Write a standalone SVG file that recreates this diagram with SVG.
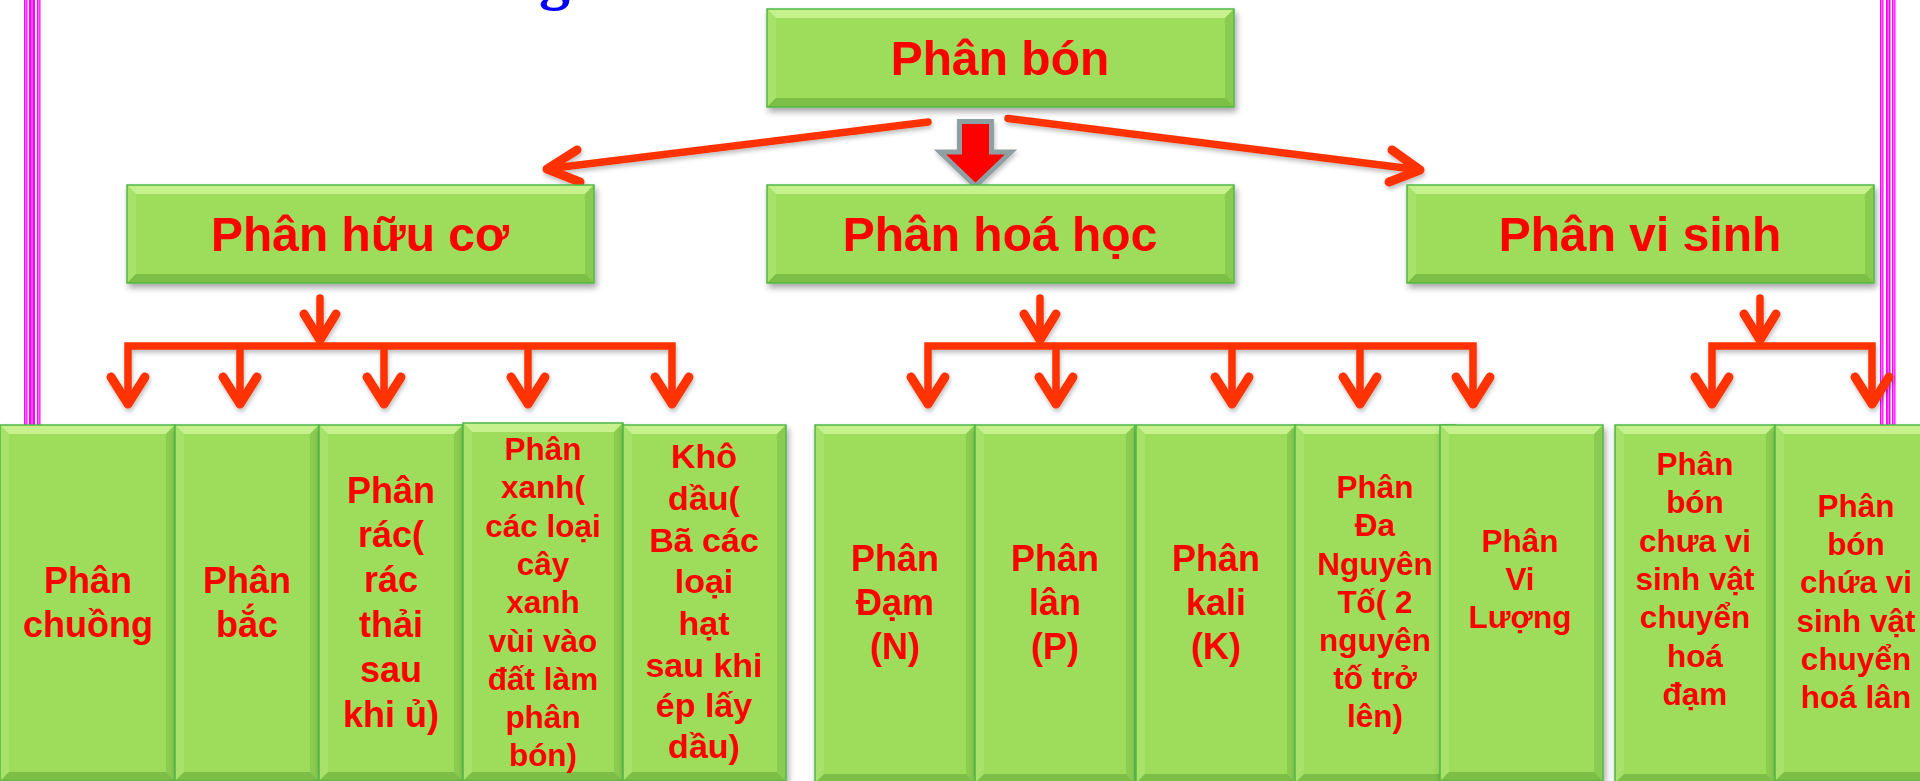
<svg xmlns="http://www.w3.org/2000/svg" xmlns:xlink="http://www.w3.org/1999/xlink" width="1920" height="781" viewBox="0 0 1920 781">
<style>
.face{fill:#9EDC5B}
.bt{fill:#C6F18C}
.bl{fill:#A9E26A}
.br{fill:#8ACB51}
.bb{fill:#7DBE47}
.edge{fill:none;stroke:#4FB848;stroke-width:1.5}
.t{font-family:"Liberation Sans",Arial,sans-serif;font-weight:bold;fill:#FF0000;text-anchor:middle}
.t48{font-size:48px}
.t36{font-size:36px}
.t34{font-size:34px}
.t31{font-size:31.5px}
.mg{fill:#FF00FF}
.mgl{fill:#FF99FF}
.chev{fill:none;stroke:#FF3300;stroke-width:9;stroke-linecap:round;stroke-linejoin:round}
</style>
<defs>
<filter id="sh" x="-10%" y="-10%" width="130%" height="130%">
<feDropShadow dx="2" dy="4" stdDeviation="3" flood-color="#000" flood-opacity="0.35"/>
</filter>
<filter id="ash" x="-20%" y="-20%" width="140%" height="140%">
<feDropShadow dx="1" dy="3" stdDeviation="2" flood-color="#000" flood-opacity="0.25"/>
</filter>
<symbol id="bx467" overflow="visible">
<rect class="face" width="467" height="98"/>
<polygon class="bt" points="0,0 467,0 458,9 9,9"/>
<polygon class="bl" points="0,0 9,9 9,89 0,98"/>
<polygon class="br" points="467,0 467,98 458,89 458,9"/>
<polygon class="bb" points="0,98 467,98 458,89 9,89"/>
<rect class="edge" width="467" height="98"/>
</symbol>
<symbol id="bx175" overflow="visible">
<rect class="face" width="175" height="356"/>
<polygon class="bt" points="0,0 175,0 166,9 9,9"/>
<polygon class="bl" points="0,0 9,9 9,347 0,356"/>
<polygon class="br" points="175,0 175,356 166,347 166,9"/>
<polygon class="bb" points="0,356 175,356 166,347 9,347"/>
<rect class="edge" width="175" height="356"/>
</symbol>
<symbol id="bx144" overflow="visible">
<rect class="face" width="144" height="356"/>
<polygon class="bt" points="0,0 144,0 135,9 9,9"/>
<polygon class="bl" points="0,0 9,9 9,347 0,356"/>
<polygon class="br" points="144,0 144,356 135,347 135,9"/>
<polygon class="bb" points="0,356 144,356 135,347 9,347"/>
<rect class="edge" width="144" height="356"/>
</symbol>
<symbol id="bx160" overflow="visible">
<rect class="face" width="160" height="358"/>
<polygon class="bt" points="0,0 160,0 151,9 9,9"/>
<polygon class="bl" points="0,0 9,9 9,349 0,358"/>
<polygon class="br" points="160,0 160,358 151,349 151,9"/>
<polygon class="bb" points="0,358 160,358 151,349 9,349"/>
<rect class="edge" width="160" height="358"/>
</symbol>
<symbol id="bx163" overflow="visible">
<rect class="face" width="163" height="356"/>
<polygon class="bt" points="0,0 163,0 154,9 9,9"/>
<polygon class="bl" points="0,0 9,9 9,347 0,356"/>
<polygon class="br" points="163,0 163,356 154,347 154,9"/>
<polygon class="bb" points="0,356 163,356 154,347 9,347"/>
<rect class="edge" width="163" height="356"/>
</symbol>
</defs>
<rect width="1920" height="781" fill="#FFFFFF"/>

<g id="frame">
<rect class="mg" x="24" y="0" width="3.5" height="781"/>
<rect class="mg" x="29" y="0" width="6" height="781"/>
<rect class="mg" x="37" y="0" width="3.5" height="781"/>
<rect class="mgl" x="25.3" y="0" width="1" height="781"/>
<rect class="mgl" x="31.5" y="0" width="1" height="781"/>
<rect class="mgl" x="38.3" y="0" width="1" height="781"/>
<rect class="mg" x="1880" y="0" width="3.5" height="781"/>
<rect class="mg" x="1886" y="0" width="4.5" height="781"/>
<rect class="mg" x="1892" y="0" width="3.5" height="781"/>
<rect class="mgl" x="1881.3" y="0" width="1" height="781"/>
<rect class="mgl" x="1887.8" y="0" width="1" height="781"/>
<rect class="mgl" x="1893.3" y="0" width="1" height="781"/>
<text x="539" y="-2" font-family="'Liberation Serif','Times New Roman',serif" font-weight="bold" font-size="62" fill="#0000FF">g</text>
</g>

<g id="connectors" filter="url(#ash)">
<g fill="none" stroke="#FF3300" stroke-width="7.5" stroke-linecap="round" stroke-linejoin="round">
<line x1="928" y1="122" x2="550" y2="168.5"/>
<line x1="1008" y1="118.5" x2="1417" y2="169.5"/>
<line x1="320" y1="298" x2="320" y2="340"/>
<line x1="1040" y1="298" x2="1040" y2="340"/>
<line x1="1760" y1="298" x2="1760" y2="340"/>
</g>
<polyline class="chev" points="577,150 547,169 580,182"/>
<polyline class="chev" points="1392,150 1420,170 1389,182"/>
<polyline class="chev" points="304,314 320,340 336,314"/>
<polyline class="chev" points="1024,314 1040,340 1056,314"/>
<polyline class="chev" points="1744,314 1760,340 1776,314"/>
<g fill="none" stroke="#FF3300" stroke-width="7.5" stroke-linecap="butt" stroke-linejoin="miter">
<path d="M128,402 V346 H672 V402"/>
<path d="M240,346 V402 M384,346 V402 M528,346 V402"/>
<path d="M928,402 V346 H1473 V402"/>
<path d="M1056,346 V402 M1232,346 V402 M1360,346 V402"/>
<path d="M1712,402 V346 H1872 V402"/>
</g>
<polyline class="chev" points="111,377 128,404 145,377"/>
<polyline class="chev" points="223,377 240,404 257,377"/>
<polyline class="chev" points="367,377 384,404 401,377"/>
<polyline class="chev" points="511,377 528,404 545,377"/>
<polyline class="chev" points="655,377 672,404 689,377"/>
<polyline class="chev" points="911,377 928,404 945,377"/>
<polyline class="chev" points="1039,377 1056,404 1073,377"/>
<polyline class="chev" points="1215,377 1232,404 1249,377"/>
<polyline class="chev" points="1343,377 1360,404 1377,377"/>
<polyline class="chev" points="1456,377 1473,404 1490,377"/>
<polyline class="chev" points="1695,377 1712,404 1729,377"/>
<polyline class="chev" points="1855,377 1872,404 1889,377"/>
<polygon points="959.5,121.5 991.5,121.5 991.5,152 1011,152 975.5,186 940,152 959.5,152" fill="#FF0000" stroke="#8FA0A3" stroke-width="5" stroke-linejoin="miter"/>
</g>

<g id="n-phanbon">
<use xlink:href="#bx467" x="767" y="9" filter="url(#sh)"/>
<text class="t t48" x="1000" y="75">Phân bón</text>
</g>
<g id="n-huuco">
<use xlink:href="#bx467" x="127" y="185" filter="url(#sh)"/>
<text class="t t48" x="360" y="251">Phân hữu cơ</text>
</g>
<g id="n-hoahoc">
<use xlink:href="#bx467" x="767" y="185" filter="url(#sh)"/>
<text class="t t48" x="1000" y="251">Phân hoá học</text>
</g>
<g id="n-visinh">
<use xlink:href="#bx467" x="1407" y="185" filter="url(#sh)"/>
<text class="t t48" x="1640" y="251">Phân vi sinh</text>
</g>

<g id="n-chuong">
<use xlink:href="#bx175" x="0" y="425" filter="url(#sh)"/>
<text class="t t36"><tspan x="88" y="593">Phân</tspan><tspan x="88" y="637">chuồng</tspan></text>
</g>
<g id="n-bac">
<use xlink:href="#bx144" x="175" y="425" filter="url(#sh)"/>
<text class="t t36"><tspan x="247" y="593">Phân</tspan><tspan x="247" y="637">bắc</tspan></text>
</g>
<g id="n-rac">
<use xlink:href="#bx144" x="319" y="425" filter="url(#sh)"/>
<text class="t t36"><tspan x="391" y="503">Phân</tspan><tspan x="391" y="547">rác(</tspan><tspan x="391" y="592">rác</tspan><tspan x="391" y="637">thải</tspan><tspan x="391" y="682">sau</tspan><tspan x="391" y="727">khi ủ)</tspan></text>
</g>
<g id="n-xanh">
<use xlink:href="#bx160" x="463" y="423" filter="url(#sh)"/>
<text class="t t31"><tspan x="543" y="460">Phân</tspan><tspan x="543" y="498">xanh(</tspan><tspan x="543" y="537">các loại</tspan><tspan x="543" y="575">cây</tspan><tspan x="543" y="613">xanh</tspan><tspan x="543" y="652">vùi vào</tspan><tspan x="543" y="690">đất làm</tspan><tspan x="543" y="728">phân</tspan><tspan x="543" y="766">bón)</tspan></text>
</g>
<g id="n-khodau">
<use xlink:href="#bx163" x="623" y="425" filter="url(#sh)"/>
<text class="t t34"><tspan x="704" y="468">Khô</tspan><tspan x="704" y="510">dầu(</tspan><tspan x="704" y="552">Bã các</tspan><tspan x="704" y="593">loại</tspan><tspan x="704" y="635">hạt</tspan><tspan x="704" y="677">sau khi</tspan><tspan x="704" y="717">ép lấy</tspan><tspan x="704" y="758">dầu)</tspan></text>
</g>

<g id="n-dam">
<use xlink:href="#bx160" x="815" y="425" filter="url(#sh)"/>
<text class="t t36"><tspan x="895" y="571">Phân</tspan><tspan x="895" y="615">Đạm</tspan><tspan x="895" y="659">(N)</tspan></text>
</g>
<g id="n-lan">
<use xlink:href="#bx160" x="975" y="425" filter="url(#sh)"/>
<text class="t t36"><tspan x="1055" y="571">Phân</tspan><tspan x="1055" y="615">lân</tspan><tspan x="1055" y="659">(P)</tspan></text>
</g>
<g id="n-kali">
<use xlink:href="#bx160" x="1136" y="425" filter="url(#sh)"/>
<text class="t t36"><tspan x="1216" y="571">Phân</tspan><tspan x="1216" y="615">kali</tspan><tspan x="1216" y="659">(K)</tspan></text>
</g>
<g id="n-da">
<use xlink:href="#bx160" x="1295" y="425" filter="url(#sh)"/>
<text class="t t31"><tspan x="1375" y="498">Phân</tspan><tspan x="1375" y="536">Đa</tspan><tspan x="1375" y="575">Nguyên</tspan><tspan x="1375" y="613">Tố( 2</tspan><tspan x="1375" y="651">nguyên</tspan><tspan x="1375" y="689">tố trở</tspan><tspan x="1375" y="727">lên)</tspan></text>
</g>
<g id="n-viluong">
<use xlink:href="#bx163" x="1440" y="425" filter="url(#sh)"/>
<text class="t t31"><tspan x="1520" y="552">Phân</tspan><tspan x="1520" y="590">Vi</tspan><tspan x="1520" y="628">Lượng</tspan></text>
</g>

<g id="n-chuavsv-dam">
<use xlink:href="#bx160" x="1615" y="425" filter="url(#sh)"/>
<text class="t t31"><tspan x="1695" y="475">Phân</tspan><tspan x="1695" y="513">bón</tspan><tspan x="1695" y="552">chưa vi</tspan><tspan x="1695" y="590">sinh vật</tspan><tspan x="1695" y="628">chuyển</tspan><tspan x="1695" y="667">hoá</tspan><tspan x="1695" y="705">đạm</tspan></text>
</g>
<g id="n-chuavsv-lan">
<use xlink:href="#bx163" x="1775" y="425" filter="url(#sh)"/>
<text class="t t31"><tspan x="1856" y="517">Phân</tspan><tspan x="1856" y="555">bón</tspan><tspan x="1856" y="593">chứa vi</tspan><tspan x="1856" y="632">sinh vật</tspan><tspan x="1856" y="670">chuyển</tspan><tspan x="1856" y="708">hoá lân</tspan></text>
</g>
</svg>
